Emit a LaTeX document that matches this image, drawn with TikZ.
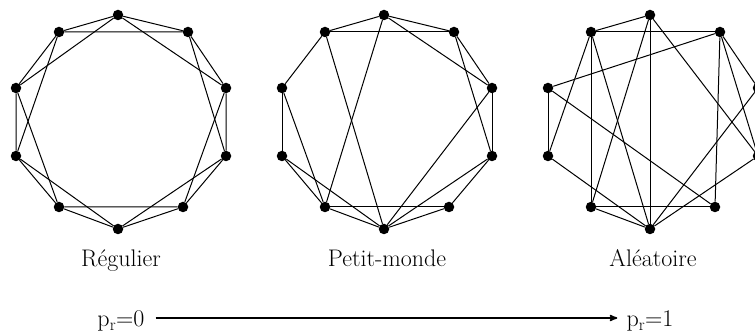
\documentclass[tikz,border=0pt]{standalone}
\usepackage{fontspec}
\usetikzlibrary{arrows,positioning}

\begin{document}
\begin{tikzpicture}[x=1pt,y=1pt,
  dot/.style={circle,fill=black,draw=none,inner sep=0pt,minimum size=10.5pt},
  link/.style={line width=1pt},
  lbl/.style={anchor=base,font=\fontsize{24}{28}\selectfont},
  prob/.style={lbl,inner sep=2pt}]
  \clip (0,0) rectangle (755,-336);

  % the ten vertices of each graph
  \foreach \g/\cx in {a/121,b/387,c/653}
    \foreach \i/\dx/\dy in {0/-3/107,1/-62/90,2/-105/34,3/-105/-34,4/-62/-85,
                            5/-3/-107,6/62/-85,7/105/-34,8/105/34,9/67/90}
      \node[dot] (\g\i) at ({\cx+(\dx)},{-122+(\dy)}) {};

  % regular ring lattice
  \foreach \i in {0,...,9} {
    \pgfmathtruncatemacro\j{mod(\i+1,10)}
    \pgfmathtruncatemacro\k{mod(\i+2,10)}
    \draw[link] (a\i) -- (a\j) (a\i) -- (a\k);
  }

  % small world
  \foreach \u/\v in {0/1,0/9,1/9,0/8,0/4,1/2,1/5,2/3,2/4,3/4,
                     3/5,4/5,4/6,5/6,5/7,5/8,6/7,7/8,7/9,8/9}
    \draw[link] (b\u) -- (b\v);

  % random
  \foreach \u/\v in {0/1,1/9,0/5,0/4,0/7,1/3,1/4,1/5,2/9,2/3,
                     2/6,3/5,4/5,4/6,5/8,5/7,6/9,9/8,9/7,7/8}
    \draw[link] (c\u) -- (c\v);

  \node[lbl] (reg) at (121,-267) {Régulier};
  \node[lbl] (pm)  at (387,-267) {Petit-monde};
  \node[lbl] (ale) at (653,-267) {Aléatoire};

  \node[prob] (p0) at (121,-327) {p\textsubscript{r}=0};
  \node[prob] (p1) at (650,-327) {p\textsubscript{r}=1};
  \draw[->,>=stealth',line width=1.6pt,shorten <=9pt,shorten >=7pt]
    ([yshift=9pt]p0.base east) -- ([yshift=9pt]p1.base west);
\end{tikzpicture}
\end{document}
